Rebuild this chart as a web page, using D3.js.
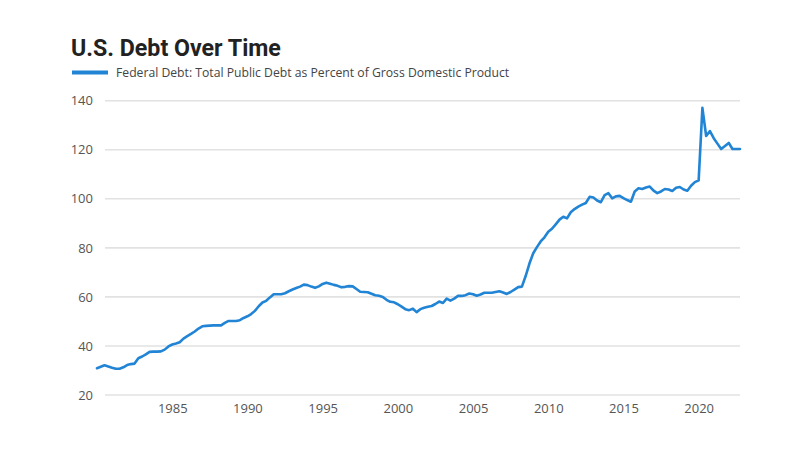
<!DOCTYPE html>
<html>
<head>
<meta charset="utf-8">
<script src="https://cdn.jsdelivr.net/npm/d3@7"></script>
<style>
  html, body { margin: 0; padding: 0; background: #ffffff; }
  svg { display: block; }
</style>
</head>
<body>
<svg id="chart" width="800" height="450"></svg>
<script>
// ---- Data (quarterly, 1980 Q1 .. 2022 Q4) ----
const startYear = 1980;
const quarterLabels = ["Q1", "Q2", "Q3", "Q4"];
const debtPct = [
  30.9, 31.5, 32.1, 31.6,   // 1980
  31.1, 30.7, 30.7, 31.3,   // 1981
  32.2, 32.6, 32.8, 35.0,   // 1982
  35.7, 36.6, 37.6, 37.7,   // 1983
  37.7, 37.8, 38.5, 39.8,   // 1984
  40.6, 41.0, 41.5, 43.0,   // 1985
  44.0, 44.9, 45.9, 47.1,   // 1986
  48.0, 48.2, 48.3, 48.4,   // 1987
  48.4, 48.4, 49.4, 50.2,   // 1988
  50.2, 50.2, 50.5, 51.4,   // 1989
  52.1, 53.0, 54.3, 56.2,   // 1990
  57.7, 58.4, 59.8, 61.1,   // 1991
  61.1, 61.1, 61.5, 62.3,   // 1992
  63.0, 63.6, 64.2, 65.0,   // 1993
  64.8, 64.2, 63.7, 64.3,   // 1994
  65.3, 65.8, 65.4, 64.9,   // 1995
  64.5, 63.9, 64.1, 64.4,   // 1996
  64.3, 63.2, 62.1, 62.0,   // 1997
  61.9, 61.3, 60.7, 60.5,   // 1998
  60.0, 58.8, 58.0, 57.8,   // 1999
  57.0, 56.0, 55.0, 54.6,   // 2000
  55.2, 53.8, 55.0, 55.6,   // 2001
  56.0, 56.3, 57.1, 58.1,   // 2002
  57.5, 59.3, 58.5, 59.3,   // 2003
  60.4, 60.4, 60.7, 61.4,   // 2004
  61.1, 60.5, 61.0, 61.7,   // 2005
  61.7, 61.7, 62.0, 62.3,   // 2006
  61.8, 61.2, 62.0, 63.0,   // 2007
  64.0, 64.2, 68.5, 73.6,   // 2008
  77.8, 80.3, 82.6, 84.3,   // 2009
  86.6, 87.8, 89.6, 91.5,   // 2010
  92.7, 92.0, 94.5, 95.8,   // 2011
  96.8, 97.6, 98.3, 100.8,  // 2012
  100.5, 99.3, 98.6, 101.5, // 2013
  102.3, 100.2, 101.0, 101.2, // 2014
  100.3, 99.5, 98.8, 103.0, // 2015
  104.3, 104.0, 104.6, 105.0, // 2016
  103.3, 102.3, 103.0, 104.0, // 2017
  103.8, 103.2, 104.5, 104.8, // 2018
  103.8, 103.3, 105.3, 106.8, // 2019
  107.5, 137.1, 125.6, 127.6, // 2020
  124.7, 122.5, 120.3, 121.5, // 2021
  122.8, 120.3, 120.3, 120.3  // 2022
];
const xTickYears = [1985, 1990, 1995, 2000, 2005, 2010, 2015, 2020];
const yTicks = [20, 40, 60, 80, 100, 120, 140];
const titleText = "U.S. Debt Over Time";
const legendText = "Federal Debt: Total Public Debt as Percent of Gross Domestic Product";

// ---- Build records ----
const records = debtPct.map((v, i) => ({
  date: new Date(startYear + Math.floor(i / 4), (i % 4) * 3, 1),
  label: (startYear + Math.floor(i / 4)) + " " + quarterLabels[i % 4],
  value: v
}));

// ---- Layout ----
const svg = d3.select("#chart");
const lineColor = "#2184d4";
const gridLeft = 105, gridRight = 740;

const x = d3.scaleTime()
  .domain(d3.extent(records, d => d.date))
  .range([97, 740]);
const y = d3.scaleLinear()
  .domain([20, 140])
  .range([395, 100.7]);

// Title
svg.append("text")
  .attr("x", 71).attr("y", 55.5)
  .attr("font-family", "Roboto, 'Open Sans', sans-serif")
  .attr("font-weight", 700)
  .attr("font-size", 23.2)
  .attr("fill", "#222222")
  .text(titleText);

// Legend
svg.append("line")
  .attr("x1", 72).attr("x2", 108)
  .attr("y1", 72.5).attr("y2", 72.5)
  .attr("stroke", lineColor)
  .attr("stroke-width", 4);
svg.append("text")
  .attr("x", 116).attr("y", 77)
  .attr("font-family", "'Open Sans', sans-serif")
  .attr("font-size", 12.2)
  .attr("fill", "#444444")
  .text(legendText);

// Gridlines
svg.append("g")
  .selectAll("line")
  .data(yTicks)
  .join("line")
  .attr("x1", gridLeft).attr("x2", gridRight)
  .attr("y1", d => y(d)).attr("y2", d => y(d))
  .attr("stroke", "#e2e2e2")
  .attr("stroke-width", 1.6);

// Y axis labels
const yAxis = d3.axisLeft(y).tickValues(yTicks).tickSize(0).tickPadding(0);
const gy = svg.append("g").attr("transform", "translate(93,0)").call(yAxis);
gy.select(".domain").remove();
gy.selectAll("text")
  .attr("font-family", "'Open Sans', sans-serif")
  .attr("font-size", 13)
  .attr("fill", "#555555");

// X axis labels
const xAxis = d3.axisBottom(x)
  .tickValues(xTickYears.map(yr => new Date(yr, 0, 1)))
  .tickFormat(d3.timeFormat("%Y"))
  .tickSize(0).tickPadding(0);
const gx = svg.append("g").attr("transform", "translate(0,404)").call(xAxis);
gx.select(".domain").remove();
gx.selectAll("text")
  .attr("font-family", "'Open Sans', sans-serif")
  .attr("font-size", 13)
  .attr("fill", "#555555");

// Line
const line = d3.line()
  .x(d => x(d.date))
  .y(d => y(d.value));
svg.append("path")
  .datum(records)
  .attr("d", line)
  .attr("fill", "none")
  .attr("stroke", lineColor)
  .attr("stroke-width", 2.6)
  .attr("stroke-linejoin", "round")
  .attr("stroke-linecap", "round");
</script>
</body>
</html>
